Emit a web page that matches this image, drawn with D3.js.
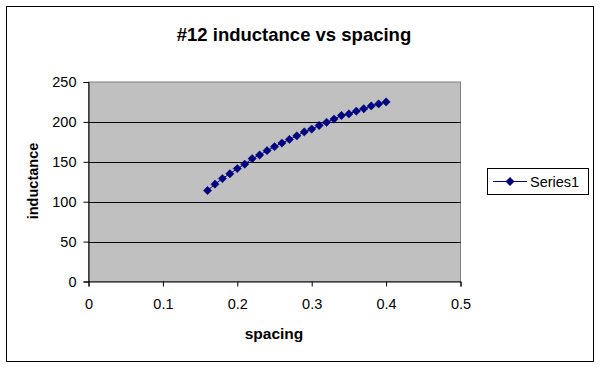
<!DOCTYPE html>
<html>
<head>
<meta charset="utf-8">
<script src="https://cdn.jsdelivr.net/npm/d3@7"></script>
<style>
html,body{margin:0;padding:0;background:#fff;}
svg text{font-family:Arial,"Liberation Sans",sans-serif;}
</style>
</head>
<body>
<svg id="chart" width="600" height="368"></svg>
<script>
const titleText = "#12 inductance vs spacing";
const xLabel = "spacing";
const yLabel = "inductance";
const seriesName = "Series1";
const spacing = [0.16,0.17,0.18,0.19,0.20,0.21,0.22,0.23,0.24,0.25,0.26,0.27,0.28,0.29,0.30,0.31,0.32,0.33,0.34,0.35,0.36,0.37,0.38,0.39,0.40];
const inductance = [114,122,129,135,141.5,147,154,158.5,164,169,173.5,178,182.5,187.5,191,195.5,199.5,203.5,208,210,213.5,216.5,220,222.5,225];
const xTicks = [0,0.1,0.2,0.3,0.4,0.5];
const yTicks = [0,50,100,150,200,250];

const svg = d3.select("#chart");
svg.append("rect").attr("x",6.5).attr("y",6.5).attr("width",587).attr("height",355)
  .attr("fill","#fff").attr("stroke","#000").attr("stroke-width",1);

const L=88.5, R=460.5, T=82, B=281.5;
const x = d3.scaleLinear().domain([0,0.5]).range([L,R]);
const y = d3.scaleLinear().domain([0,250]).range([B,T]);

svg.append("rect").attr("x",L).attr("y",T).attr("width",R-L).attr("height",B-T)
  .attr("fill","#c0c0c0").attr("stroke","#808080").attr("stroke-width",1);

// gridlines
svg.append("g").selectAll("line").data(yTicks.filter(d=>d>0 && d<250)).join("line")
  .attr("x1",L).attr("x2",R).attr("y1",d=>Math.round(y(d))+0.5).attr("y2",d=>Math.round(y(d))+0.5)
  .attr("stroke","#000").attr("stroke-width",1);

const xAxis = svg.append("g").attr("transform",`translate(0,${B})`)
  .call(d3.axisBottom(x).tickValues(xTicks).tickSize(5).tickPadding(12).tickFormat(d=>d===0?"0":d3.format(".1f")(d)));
const yAxis = svg.append("g").attr("transform",`translate(${L},0)`)
  .call(d3.axisLeft(y).tickValues(yTicks).tickSize(5).tickPadding(7));
[xAxis,yAxis].forEach(g=>{
  g.select(".domain").attr("stroke","#000");
  g.selectAll(".tick line").attr("stroke","#000");
  g.selectAll("text").attr("font-size",14.5).attr("fill","#000").attr("font-family","Arial, 'Liberation Sans', sans-serif");
});

const pts = spacing.map((s,i)=>[s,inductance[i]]);
svg.append("path").datum(pts)
  .attr("d",d3.line().x(d=>x(d[0])).y(d=>y(d[1])))
  .attr("fill","none").attr("stroke","#000080").attr("stroke-width",1);
const diamond = d3.symbol().type(d3.symbolDiamond2).size(44);
svg.append("g").selectAll("path").data(pts).join("path")
  .attr("d",diamond).attr("transform",d=>`translate(${x(d[0])},${y(d[1])})`)
  .attr("fill","#000080").attr("stroke","#000080").attr("stroke-width",0.5);

svg.append("text").attr("x",294).attr("y",41).attr("text-anchor","middle")
  .attr("font-size",18.5).attr("font-weight","bold").text(titleText);
svg.append("text").attr("x",274).attr("y",339).attr("text-anchor","middle")
  .attr("font-size",15.5).attr("font-weight","bold").text(xLabel);
svg.append("text").attr("transform","translate(38,181) rotate(-90)").attr("text-anchor","middle")
  .attr("font-size",14.5).attr("font-weight","bold").text(yLabel);

// legend
const lg = svg.append("g");
lg.append("rect").attr("x",487.5).attr("y",168.5).attr("width",101).attr("height",26)
  .attr("fill","#fff").attr("stroke","#000").attr("stroke-width",1);
lg.append("line").attr("x1",493).attr("x2",527).attr("y1",181.5).attr("y2",181.5)
  .attr("stroke","#000080").attr("stroke-width",1);
lg.append("path").attr("d",diamond).attr("transform","translate(510,181.5)")
  .attr("fill","#000080").attr("stroke","#000080").attr("stroke-width",0.5);
lg.append("text").attr("x",530).attr("y",187).attr("font-size",14.5).text(seriesName);
</script>
</body>
</html>
